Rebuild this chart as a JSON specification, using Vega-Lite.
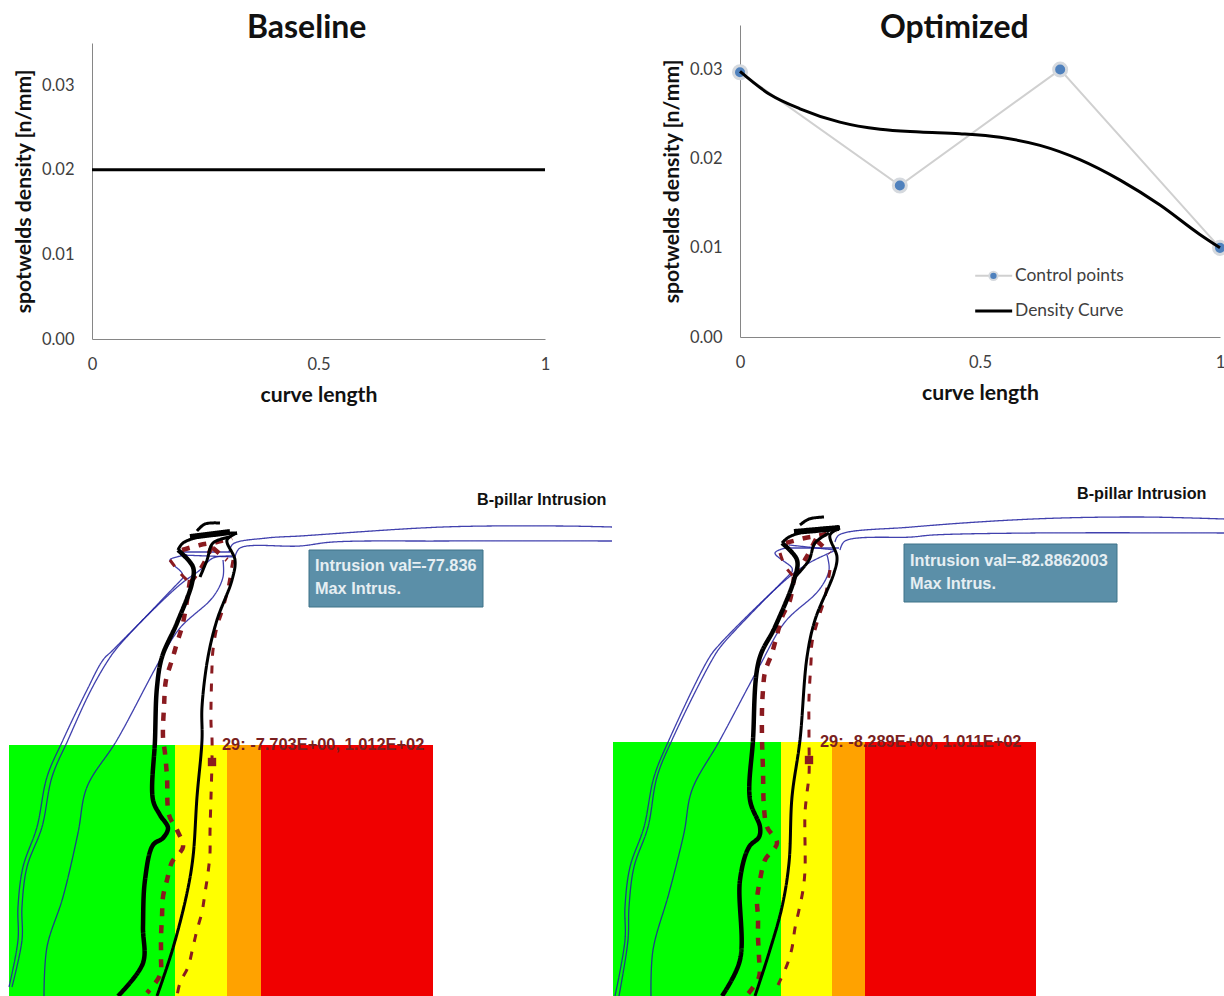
{
"$schema":"https://vega.github.io/schema/vega-lite/v6.json",
"padding":0,
"background":"white",
"config":{"view":{"stroke":null},"axis":{"grid":false,"ticks":false,"domainColor":"#868686","labelFont":"Lato","labelFontSize":16.5,"labelColor":"#404040","titleFont":"Lato","titleFontWeight":"bold","titleColor":"#111111","titleFontSize":21.2,"labelFlush":false},"title":{"font":"Lato","fontWeight":"bold","fontSize":32,"color":"#111111"}},
"datasets":{
"left":[
{"c":"u1","k":"blue","i":0,"x":612,"y":527},{"c":"u1","k":"blue","i":1,"x":560,"y":526},{"c":"u1","k":"blue","i":2,"x":443,"y":527},{"c":"u1","k":"blue","i":3,"x":300,"y":536},{"c":"u1","k":"blue","i":4,"x":267,"y":538},{"c":"u1","k":"blue","i":5,"x":233,"y":544},{"c":"u1","k":"blue","i":6,"x":229,"y":552},
{"c":"u2","k":"blue","i":0,"x":612,"y":541},{"c":"u2","k":"blue","i":1,"x":443,"y":541},{"c":"u2","k":"blue","i":2,"x":333,"y":542},{"c":"u2","k":"blue","i":3,"x":300,"y":546},{"c":"u2","k":"blue","i":4,"x":240,"y":548},{"c":"u2","k":"blue","i":5,"x":235,"y":557},
{"c":"u3","k":"blue","i":0,"x":183,"y":552},{"c":"u3","k":"blue","i":1,"x":230,"y":552},
{"c":"u4","k":"blue","i":0,"x":180,"y":555},{"c":"u4","k":"blue","i":1,"x":235,"y":557},
{"c":"o1","k":"blue","i":0,"x":232,"y":556},{"c":"o1","k":"blue","i":1,"x":213,"y":558},{"c":"o1","k":"blue","i":2,"x":200,"y":570},{"c":"o1","k":"blue","i":3,"x":182,"y":583},{"c":"o1","k":"blue","i":4,"x":160,"y":603},{"c":"o1","k":"blue","i":5,"x":113,"y":650},{"c":"o1","k":"blue","i":6,"x":103,"y":660},{"c":"o1","k":"blue","i":7,"x":87,"y":690},{"c":"o1","k":"blue","i":8,"x":63,"y":740},{"c":"o1","k":"blue","i":9,"x":47,"y":777},{"c":"o1","k":"blue","i":10,"x":37,"y":827},{"c":"o1","k":"blue","i":11,"x":23,"y":867},{"c":"o1","k":"blue","i":12,"x":18,"y":907},{"c":"o1","k":"blue","i":13,"x":18,"y":940},{"c":"o1","k":"blue","i":14,"x":9,"y":987},
{"c":"o2","k":"blue","i":0,"x":183,"y":578},{"c":"o2","k":"blue","i":1,"x":157,"y":605},{"c":"o2","k":"blue","i":2,"x":117,"y":648},{"c":"o2","k":"blue","i":3,"x":107,"y":662},{"c":"o2","k":"blue","i":4,"x":90,"y":692},{"c":"o2","k":"blue","i":5,"x":68,"y":740},{"c":"o2","k":"blue","i":6,"x":52,"y":777},{"c":"o2","k":"blue","i":7,"x":42,"y":827},{"c":"o2","k":"blue","i":8,"x":27,"y":867},{"c":"o2","k":"blue","i":9,"x":22,"y":907},{"c":"o2","k":"blue","i":10,"x":22,"y":940},{"c":"o2","k":"blue","i":11,"x":12,"y":987},
{"c":"in","k":"blue","i":0,"x":223,"y":560},{"c":"in","k":"blue","i":1,"x":223,"y":577},{"c":"in","k":"blue","i":2,"x":213,"y":597},{"c":"in","k":"blue","i":3,"x":180,"y":628},{"c":"in","k":"blue","i":4,"x":160,"y":660},{"c":"in","k":"blue","i":5,"x":117,"y":740},{"c":"in","k":"blue","i":6,"x":87,"y":787},{"c":"in","k":"blue","i":7,"x":78,"y":833},{"c":"in","k":"blue","i":8,"x":63,"y":897},{"c":"in","k":"blue","i":9,"x":47,"y":947},{"c":"in","k":"blue","i":10,"x":44,"y":996},
{"c":"lp","k":"blue","i":0,"x":187,"y":555},{"c":"lp","k":"blue","i":1,"x":170,"y":560},{"c":"lp","k":"blue","i":2,"x":182,"y":573},{"c":"lp","k":"blue","i":3,"x":183,"y":578},
{"c":"t1","k":"red thick","i":0,"x":182,"y":550},{"c":"t1","k":"red thick","i":1,"x":200,"y":545},{"c":"t1","k":"red thick","i":2,"x":217,"y":542},{"c":"t1","k":"red thick","i":3,"x":232,"y":538},
{"c":"t2","k":"red thick","i":0,"x":213,"y":548},{"c":"t2","k":"red thick","i":1,"x":227,"y":560},
{"c":"t3","k":"red thick","i":0,"x":212,"y":546},{"c":"t3","k":"red thick","i":1,"x":203,"y":565},{"c":"t3","k":"red thick","i":2,"x":190,"y":583},
{"c":"t4","k":"red thin","i":0,"x":170,"y":560},{"c":"t4","k":"red thin","i":1,"x":180,"y":573},{"c":"t4","k":"red thin","i":2,"x":190,"y":583},
{"c":"r1","k":"red thick","i":0,"x":190,"y":580},{"c":"r1","k":"red thick","i":1,"x":183,"y":623},{"c":"r1","k":"red thick","i":2,"x":177,"y":643},{"c":"r1","k":"red thick","i":3,"x":172,"y":660},{"c":"r1","k":"red thick","i":4,"x":166,"y":680},{"c":"r1","k":"red thick","i":5,"x":164,"y":707},{"c":"r1","k":"red thick","i":6,"x":163,"y":737},{"c":"r1","k":"red thick","i":7,"x":165,"y":753},{"c":"r1","k":"red thick","i":8,"x":167,"y":777},{"c":"r1","k":"red thick","i":9,"x":169,"y":815},{"c":"r1","k":"red thick","i":10,"x":177,"y":830},{"c":"r1","k":"red thick","i":11,"x":183,"y":847},{"c":"r1","k":"red thick","i":12,"x":172,"y":862},{"c":"r1","k":"red thick","i":13,"x":167,"y":880},{"c":"r1","k":"red thick","i":14,"x":163,"y":897},{"c":"r1","k":"red thick","i":15,"x":162,"y":917},{"c":"r1","k":"red thick","i":16,"x":161,"y":937},{"c":"r1","k":"red thick","i":17,"x":161,"y":957},{"c":"r1","k":"red thick","i":18,"x":160,"y":975},{"c":"r1","k":"red thick","i":19,"x":147,"y":993},
{"c":"r2","k":"red thin","i":0,"x":233,"y":560},{"c":"r2","k":"red thin","i":1,"x":230,"y":577},{"c":"r2","k":"red thin","i":2,"x":227,"y":593},{"c":"r2","k":"red thin","i":3,"x":222,"y":612},{"c":"r2","k":"red thin","i":4,"x":217,"y":627},{"c":"r2","k":"red thin","i":5,"x":213,"y":650},{"c":"r2","k":"red thin","i":6,"x":212,"y":667},{"c":"r2","k":"red thin","i":7,"x":211,"y":723},{"c":"r2","k":"red thin","i":8,"x":212,"y":738},{"c":"r2","k":"red thin","i":9,"x":212,"y":760},{"c":"r2","k":"red thin","i":10,"x":211,"y":797},{"c":"r2","k":"red thin","i":11,"x":210,"y":833},{"c":"r2","k":"red thin","i":12,"x":210,"y":853},{"c":"r2","k":"red thin","i":13,"x":208,"y":873},{"c":"r2","k":"red thin","i":14,"x":205,"y":893},{"c":"r2","k":"red thin","i":15,"x":202,"y":912},{"c":"r2","k":"red thin","i":16,"x":197,"y":930},{"c":"r2","k":"red thin","i":17,"x":193,"y":947},{"c":"r2","k":"red thin","i":18,"x":188,"y":967},{"c":"r2","k":"red thin","i":19,"x":180,"y":983},{"c":"r2","k":"red thin","i":20,"x":177,"y":996},
{"c":"b1","k":"black thick","i":0,"x":178,"y":550},{"c":"b1","k":"black thick","i":1,"x":193,"y":567},{"c":"b1","k":"black thick","i":2,"x":192,"y":583},{"c":"b1","k":"black thick","i":3,"x":177,"y":623},{"c":"b1","k":"black thick","i":4,"x":162,"y":657},{"c":"b1","k":"black thick","i":5,"x":157,"y":687},{"c":"b1","k":"black thick","i":6,"x":155,"y":740},{"c":"b1","k":"black thick","i":7,"x":153,"y":800},{"c":"b1","k":"black thick","i":8,"x":160,"y":815},{"c":"b1","k":"black thick","i":9,"x":168,"y":828},{"c":"b1","k":"black thick","i":10,"x":163,"y":838},{"c":"b1","k":"black thick","i":11,"x":153,"y":845},{"c":"b1","k":"black thick","i":12,"x":145,"y":880},{"c":"b1","k":"black thick","i":13,"x":143,"y":927},{"c":"b1","k":"black thick","i":14,"x":143,"y":963},{"c":"b1","k":"black thick","i":15,"x":118,"y":996},
{"c":"b2","k":"black medium","i":0,"x":178,"y":550},{"c":"b2","k":"black medium","i":1,"x":183,"y":543},{"c":"b2","k":"black medium","i":2,"x":207,"y":535},{"c":"b2","k":"black medium","i":3,"x":237,"y":533},
{"c":"b3","k":"black medium","i":0,"x":237,"y":533},{"c":"b3","k":"black medium","i":1,"x":227,"y":540},{"c":"b3","k":"black medium","i":2,"x":235,"y":560},{"c":"b3","k":"black medium","i":3,"x":232,"y":580},{"c":"b3","k":"black medium","i":4,"x":217,"y":620},{"c":"b3","k":"black medium","i":5,"x":208,"y":657},{"c":"b3","k":"black medium","i":6,"x":202,"y":707},{"c":"b3","k":"black medium","i":7,"x":202,"y":740},{"c":"b3","k":"black medium","i":8,"x":197,"y":797},{"c":"b3","k":"black medium","i":9,"x":193,"y":857},{"c":"b3","k":"black medium","i":10,"x":187,"y":893},{"c":"b3","k":"black medium","i":11,"x":173,"y":948},{"c":"b3","k":"black medium","i":12,"x":157,"y":996},
{"c":"b4","k":"black medium","i":0,"x":197,"y":531},{"c":"b4","k":"black medium","i":1,"x":205,"y":524},{"c":"b4","k":"black medium","i":2,"x":220,"y":523},
{"c":"b5","k":"black block","i":0,"x":190,"y":537},{"c":"b5","k":"black block","i":1,"x":230,"y":532},
{"c":"b6","k":"black medium","i":0,"x":230,"y":537},{"c":"b6","k":"black medium","i":1,"x":213,"y":543},{"c":"b6","k":"black medium","i":2,"x":207,"y":560},{"c":"b6","k":"black medium","i":3,"x":200,"y":577}
],
"right":[
{"c":"u1","k":"blue","i":0,"x":1224,"y":519},{"c":"u1","k":"blue","i":1,"x":1140,"y":517},{"c":"u1","k":"blue","i":2,"x":1033,"y":519},{"c":"u1","k":"blue","i":3,"x":912,"y":527},{"c":"u1","k":"blue","i":4,"x":839,"y":535},{"c":"u1","k":"blue","i":5,"x":835,"y":542},
{"c":"u2","k":"blue","i":0,"x":1224,"y":533},{"c":"u2","k":"blue","i":1,"x":1033,"y":533},{"c":"u2","k":"blue","i":2,"x":933,"y":535},{"c":"u2","k":"blue","i":3,"x":912,"y":537},{"c":"u2","k":"blue","i":4,"x":845,"y":541},{"c":"u2","k":"blue","i":5,"x":840,"y":550},
{"c":"u3","k":"blue","i":0,"x":785,"y":548},{"c":"u3","k":"blue","i":1,"x":839,"y":548},
{"c":"u4","k":"blue","i":0,"x":789,"y":545},{"c":"u4","k":"blue","i":1,"x":835,"y":550},
{"c":"o1","k":"blue","i":0,"x":836,"y":550},{"c":"o1","k":"blue","i":1,"x":825,"y":555},{"c":"o1","k":"blue","i":2,"x":809,"y":563},{"c":"o1","k":"blue","i":3,"x":789,"y":577},{"c":"o1","k":"blue","i":4,"x":719,"y":645},{"c":"o1","k":"blue","i":5,"x":709,"y":658},{"c":"o1","k":"blue","i":6,"x":669,"y":740},{"c":"o1","k":"blue","i":7,"x":654,"y":777},{"c":"o1","k":"blue","i":8,"x":644,"y":827},{"c":"o1","k":"blue","i":9,"x":630,"y":867},{"c":"o1","k":"blue","i":10,"x":625,"y":907},{"c":"o1","k":"blue","i":11,"x":625,"y":940},{"c":"o1","k":"blue","i":12,"x":615,"y":996},
{"c":"o2","k":"blue","i":0,"x":792,"y":572},{"c":"o2","k":"blue","i":1,"x":722,"y":645},{"c":"o2","k":"blue","i":2,"x":712,"y":660},{"c":"o2","k":"blue","i":3,"x":672,"y":740},{"c":"o2","k":"blue","i":4,"x":657,"y":777},{"c":"o2","k":"blue","i":5,"x":648,"y":827},{"c":"o2","k":"blue","i":6,"x":634,"y":867},{"c":"o2","k":"blue","i":7,"x":629,"y":907},{"c":"o2","k":"blue","i":8,"x":628,"y":940},{"c":"o2","k":"blue","i":9,"x":619,"y":996},
{"c":"in","k":"blue","i":0,"x":827,"y":555},{"c":"in","k":"blue","i":1,"x":829,"y":570},{"c":"in","k":"blue","i":2,"x":819,"y":590},{"c":"in","k":"blue","i":3,"x":785,"y":622},{"c":"in","k":"blue","i":4,"x":759,"y":667},{"c":"in","k":"blue","i":5,"x":720,"y":740},{"c":"in","k":"blue","i":6,"x":692,"y":790},{"c":"in","k":"blue","i":7,"x":684,"y":833},{"c":"in","k":"blue","i":8,"x":669,"y":893},{"c":"in","k":"blue","i":9,"x":653,"y":950},{"c":"in","k":"blue","i":10,"x":651,"y":996},
{"c":"lp","k":"blue","i":0,"x":785,"y":548},{"c":"lp","k":"blue","i":1,"x":775,"y":553},{"c":"lp","k":"blue","i":2,"x":792,"y":568},{"c":"lp","k":"blue","i":3,"x":792,"y":572},
{"c":"t1","k":"red thick","i":0,"x":786,"y":543},{"c":"t1","k":"red thick","i":1,"x":805,"y":538},{"c":"t1","k":"red thick","i":2,"x":822,"y":535},{"c":"t1","k":"red thick","i":3,"x":836,"y":531},
{"c":"t2","k":"red thick","i":0,"x":817,"y":541},{"c":"t2","k":"red thick","i":1,"x":830,"y":553},
{"c":"t3","k":"red thick","i":0,"x":816,"y":539},{"c":"t3","k":"red thick","i":1,"x":806,"y":558},{"c":"t3","k":"red thick","i":2,"x":794,"y":577},
{"c":"t4","k":"red thin","i":0,"x":780,"y":553},{"c":"t4","k":"red thin","i":1,"x":785,"y":566},{"c":"t4","k":"red thin","i":2,"x":794,"y":577},
{"c":"r1","k":"red thick","i":0,"x":794,"y":577},{"c":"r1","k":"red thick","i":1,"x":790,"y":600},{"c":"r1","k":"red thick","i":2,"x":782,"y":617},{"c":"r1","k":"red thick","i":3,"x":777,"y":635},{"c":"r1","k":"red thick","i":4,"x":772,"y":653},{"c":"r1","k":"red thick","i":5,"x":765,"y":672},{"c":"r1","k":"red thick","i":6,"x":763,"y":690},{"c":"r1","k":"red thick","i":7,"x":762,"y":710},{"c":"r1","k":"red thick","i":8,"x":762,"y":738},{"c":"r1","k":"red thick","i":9,"x":763,"y":770},{"c":"r1","k":"red thick","i":10,"x":764,"y":808},{"c":"r1","k":"red thick","i":11,"x":767,"y":827},{"c":"r1","k":"red thick","i":12,"x":777,"y":843},{"c":"r1","k":"red thick","i":13,"x":765,"y":860},{"c":"r1","k":"red thick","i":14,"x":760,"y":880},{"c":"r1","k":"red thick","i":15,"x":757,"y":900},{"c":"r1","k":"red thick","i":16,"x":758,"y":917},{"c":"r1","k":"red thick","i":17,"x":758,"y":937},{"c":"r1","k":"red thick","i":18,"x":759,"y":957},{"c":"r1","k":"red thick","i":19,"x":759,"y":977},{"c":"r1","k":"red thick","i":20,"x":747,"y":995},
{"c":"r2","k":"red thin","i":0,"x":830,"y":570},{"c":"r2","k":"red thin","i":1,"x":825,"y":597},{"c":"r2","k":"red thin","i":2,"x":817,"y":623},{"c":"r2","k":"red thin","i":3,"x":812,"y":643},{"c":"r2","k":"red thin","i":4,"x":811,"y":662},{"c":"r2","k":"red thin","i":5,"x":809,"y":698},{"c":"r2","k":"red thin","i":6,"x":809,"y":737},{"c":"r2","k":"red thin","i":7,"x":809,"y":775},{"c":"r2","k":"red thin","i":8,"x":807,"y":793},{"c":"r2","k":"red thin","i":9,"x":805,"y":813},{"c":"r2","k":"red thin","i":10,"x":805,"y":870},{"c":"r2","k":"red thin","i":11,"x":803,"y":890},{"c":"r2","k":"red thin","i":12,"x":799,"y":910},{"c":"r2","k":"red thin","i":13,"x":795,"y":928},{"c":"r2","k":"red thin","i":14,"x":792,"y":948},{"c":"r2","k":"red thin","i":15,"x":787,"y":965},{"c":"r2","k":"red thin","i":16,"x":778,"y":985},
{"c":"b1","k":"black thick","i":0,"x":782,"y":543},{"c":"b1","k":"black thick","i":1,"x":797,"y":560},{"c":"b1","k":"black thick","i":2,"x":794,"y":580},{"c":"b1","k":"black thick","i":3,"x":775,"y":627},{"c":"b1","k":"black thick","i":4,"x":759,"y":660},{"c":"b1","k":"black thick","i":5,"x":753,"y":740},{"c":"b1","k":"black thick","i":6,"x":750,"y":800},{"c":"b1","k":"black thick","i":7,"x":760,"y":827},{"c":"b1","k":"black thick","i":8,"x":759,"y":837},{"c":"b1","k":"black thick","i":9,"x":749,"y":847},{"c":"b1","k":"black thick","i":10,"x":740,"y":880},{"c":"b1","k":"black thick","i":11,"x":740,"y":960},{"c":"b1","k":"black thick","i":12,"x":722,"y":996},
{"c":"b2","k":"black medium","i":0,"x":782,"y":543},{"c":"b2","k":"black medium","i":1,"x":789,"y":537},{"c":"b2","k":"black medium","i":2,"x":812,"y":530},{"c":"b2","k":"black medium","i":3,"x":840,"y":527},
{"c":"b3","k":"black medium","i":0,"x":840,"y":528},{"c":"b3","k":"black medium","i":1,"x":830,"y":535},{"c":"b3","k":"black medium","i":2,"x":837,"y":557},{"c":"b3","k":"black medium","i":3,"x":834,"y":573},{"c":"b3","k":"black medium","i":4,"x":815,"y":620},{"c":"b3","k":"black medium","i":5,"x":807,"y":657},{"c":"b3","k":"black medium","i":6,"x":800,"y":740},{"c":"b3","k":"black medium","i":7,"x":792,"y":797},{"c":"b3","k":"black medium","i":8,"x":789,"y":863},{"c":"b3","k":"black medium","i":9,"x":782,"y":907},{"c":"b3","k":"black medium","i":10,"x":769,"y":953},{"c":"b3","k":"black medium","i":11,"x":755,"y":996},
{"c":"b4","k":"black medium","i":0,"x":800,"y":525},{"c":"b4","k":"black medium","i":1,"x":809,"y":519},{"c":"b4","k":"black medium","i":2,"x":824,"y":517},
{"c":"b5","k":"black block","i":0,"x":794,"y":532},{"c":"b5","k":"black block","i":1,"x":839,"y":528},
{"c":"b6","k":"black medium","i":0,"x":829,"y":533},{"c":"b6","k":"black medium","i":1,"x":815,"y":543},{"c":"b6","k":"black medium","i":2,"x":809,"y":560},{"c":"b6","k":"black medium","i":3,"x":795,"y":577}
]
},
"columns":2,
"spacing":0,
"bounds":"flush",
"concat":[
{"width":612,"height":339,
 "title":{"text":"Baseline","anchor":"start","frame":"group","dx":247,"offset":-45},
 "data":{"values":[{"length":0,"density":0.02},{"length":1,"density":0.02}]},
 "mark":{"type":"line","color":"#000000","strokeWidth":3},
 "encoding":{
  "x":{"field":"length","type":"quantitative","scale":{"domain":[0,1],"range":[92,545]},"axis":{"values":[0,0.5,1],"format":"~g","title":"curve length","offset":0,"labelPadding":17,"titlePadding":12}},
  "y":{"field":"density","type":"quantitative","scale":{"domain":[0,0.035],"range":[339,43]},"axis":{"values":[0,0.01,0.02,0.03],"format":".2f","title":"spotwelds density [n/mm]","offset":-92,"labelPadding":18,"titlePadding":7}}
 }},
{"width":612,"height":339,
 "title":{"text":"Optimized","anchor":"start","frame":"group","dx":268,"offset":-45},
 "encoding":{
  "x":{"field":"length","type":"quantitative","scale":{"domain":[0,1],"range":[128,608]},"axis":{"values":[0,0.5,1],"format":"~g","title":"curve length","offset":-2,"labelPadding":17,"titlePadding":12}},
  "y":{"field":"density","type":"quantitative","scale":{"domain":[0,0.035],"range":[337,25]},"axis":{"values":[0,0.01,0.02,0.03],"format":".2f","title":"spotwelds density [n/mm]","offset":-128,"labelPadding":18,"titlePadding":7}}
 },
 "layer":[
  {"data":{"values":[{"length":0,"density":0.0297},{"length":0.333,"density":0.017},{"length":0.667,"density":0.03},{"length":1,"density":0.01}]},
   "layer":[
    {"mark":{"type":"line","color":"#d0d0d0","strokeWidth":2}},
    {"mark":{"type":"point","filled":true,"fill":"#4f81bd","stroke":"#d5d9de","strokeWidth":3,"size":170,"opacity":1}}
   ]},
  {"data":{"values":[{"length":0,"density":0.0298},{"length":0.0625,"density":0.0272},{"length":0.125,"density":0.0256},{"length":0.208,"density":0.0241},{"length":0.292,"density":0.0233},{"length":0.375,"density":0.023},{"length":0.458,"density":0.0228},{"length":0.542,"density":0.0224},{"length":0.625,"density":0.0215},{"length":0.708,"density":0.0199},{"length":0.792,"density":0.0176},{"length":0.875,"density":0.0148},{"length":0.958,"density":0.0115},{"length":1,"density":0.01}]},
   "mark":{"type":"line","color":"#000000","strokeWidth":3,"interpolate":"monotone"}},
  {"data":{"values":[{"length":0.49,"density":0.00686},{"length":0.567,"density":0.00686}]},
   "mark":{"type":"line","color":"#d0d0d0","strokeWidth":2}},
  {"data":{"values":[{"length":0.528,"density":0.00686}]},
   "mark":{"type":"point","filled":true,"fill":"#4f81bd","stroke":"#d5d9de","strokeWidth":2,"size":70,"opacity":1}},
  {"data":{"values":[{"length":0.49,"density":0.00292},{"length":0.567,"density":0.00292}]},
   "mark":{"type":"line","color":"#000000","strokeWidth":3}},
  {"data":{"values":[{"length":0.573,"density":0.00686,"label":"Control points"},{"length":0.573,"density":0.00292,"label":"Density Curve"}]},
   "mark":{"type":"text","align":"left","baseline":"middle","font":"Lato","fontSize":17.4,"color":"#404040"},
   "encoding":{"text":{"field":"label"}}}
 ]},
{"width":612,"height":657,
 "encoding":{
  "x":{"field":"x","type":"quantitative","scale":{"domain":[0,612]},"axis":null},
  "y":{"field":"y","type":"quantitative","scale":{"domain":[996,339]},"axis":null}
 },
 "layer":[
  {"data":{"values":[{"zone":"safe","x":9,"x2":175,"y":745,"y2":996},{"zone":"acceptable","x":175,"x2":227,"y":745,"y2":996},{"zone":"marginal","x":227,"x2":261,"y":745,"y2":996},{"zone":"poor","x":261,"x2":433,"y":745,"y2":996}]},
   "mark":{"type":"rect"},
   "encoding":{"x2":{"field":"x2"},"y2":{"field":"y2"},"color":{"field":"zone","type":"nominal","legend":null,"scale":{"domain":["safe","acceptable","marginal","poor"],"range":["#00ff00","#ffff00","#ffa200","#f00000"]}}}},
  {"data":{"name":"left"},
   "mark":{"type":"line","interpolate":"catmull-rom"},
   "encoding":{
    "detail":{"field":"c"},"order":{"field":"i","type":"quantitative"},
    "stroke":{"field":"k","type":"nominal","legend":null,"scale":{"domain":["blue","red thick","red thin","black thick","black medium","black block"],"range":["#2020a0","#8a1a1f","#8a1a1f","#000000","#000000","#000000"]}},
    "strokeWidth":{"field":"k","type":"nominal","legend":null,"scale":{"type":"ordinal","domain":["blue","red thick","red thin","black thick","black medium","black block"],"range":[1.3,4.5,3,4.5,3,6]}},
    "strokeDash":{"field":"k","type":"nominal","legend":null,"scale":{"domain":["blue","red thick","red thin","black thick","black medium","black block"],"range":[[1,0],[8,9],[8,10],[1,0],[1,0],[1,0]]}},
    "opacity":{"field":"k","type":"nominal","legend":null,"scale":{"type":"ordinal","domain":["blue","red thick","red thin","black thick","black medium","black block"],"range":[0.85,1,1,1,1,1]}}
   }},
  {"data":{"values":[{"x":212,"y":762}]},"mark":{"type":"point","shape":"square","filled":true,"color":"#8a1a1f","size":70,"opacity":1}},
  {"data":{"values":[{"x":309,"x2":483,"y":550,"y2":607}]},"mark":{"type":"rect","fill":"#5b8fa8","stroke":"#3f7388","strokeWidth":1},"encoding":{"x2":{"field":"x2"},"y2":{"field":"y2"}}},
  {"data":{"values":[{"x":315,"y":566,"label":"Intrusion val=-77.836"},{"x":315,"y":589,"label":"Max Intrus."}]},"mark":{"type":"text","align":"left","baseline":"middle","font":"Liberation Sans","fontWeight":"bold","fontSize":16.3,"color":"#e6eef2"},"encoding":{"text":{"field":"label"}}},
  {"data":{"values":[{"x":477,"y":500,"label":"B-pillar Intrusion"}]},"mark":{"type":"text","align":"left","baseline":"middle","font":"Liberation Sans","fontWeight":"bold","fontSize":16.2,"color":"#111111"},"encoding":{"text":{"field":"label"}}},
  {"data":{"values":[{"x":222,"y":745,"label":"29: -7.703E+00, 1.012E+02"}]},"mark":{"type":"text","align":"left","baseline":"middle","font":"Liberation Sans","fontWeight":"bold","fontSize":16.4,"color":"#7a1f1f"},"encoding":{"text":{"field":"label"}}}
 ]},
{"width":612,"height":657,
 "encoding":{
  "x":{"field":"x","type":"quantitative","scale":{"domain":[612,1224]},"axis":null},
  "y":{"field":"y","type":"quantitative","scale":{"domain":[996,339]},"axis":null}
 },
 "layer":[
  {"data":{"values":[{"zone":"safe","x":613,"x2":781,"y":742,"y2":996},{"zone":"acceptable","x":781,"x2":832,"y":742,"y2":996},{"zone":"marginal","x":832,"x2":865,"y":742,"y2":996},{"zone":"poor","x":865,"x2":1036,"y":742,"y2":996}]},
   "mark":{"type":"rect"},
   "encoding":{"x2":{"field":"x2"},"y2":{"field":"y2"},"color":{"field":"zone","type":"nominal","legend":null,"scale":{"domain":["safe","acceptable","marginal","poor"],"range":["#00ff00","#ffff00","#ffa200","#f00000"]}}}},
  {"data":{"name":"right"},
   "mark":{"type":"line","interpolate":"catmull-rom"},
   "encoding":{
    "detail":{"field":"c"},"order":{"field":"i","type":"quantitative"},
    "stroke":{"field":"k","type":"nominal","legend":null,"scale":{"domain":["blue","red thick","red thin","black thick","black medium","black block"],"range":["#2020a0","#8a1a1f","#8a1a1f","#000000","#000000","#000000"]}},
    "strokeWidth":{"field":"k","type":"nominal","legend":null,"scale":{"type":"ordinal","domain":["blue","red thick","red thin","black thick","black medium","black block"],"range":[1.3,4.5,3,4.5,3,6]}},
    "strokeDash":{"field":"k","type":"nominal","legend":null,"scale":{"domain":["blue","red thick","red thin","black thick","black medium","black block"],"range":[[1,0],[8,9],[8,10],[1,0],[1,0],[1,0]]}},
    "opacity":{"field":"k","type":"nominal","legend":null,"scale":{"type":"ordinal","domain":["blue","red thick","red thin","black thick","black medium","black block"],"range":[0.85,1,1,1,1,1]}}
   }},
  {"data":{"values":[{"x":809,"y":760}]},"mark":{"type":"point","shape":"square","filled":true,"color":"#8a1a1f","size":70,"opacity":1}},
  {"data":{"values":[{"x":904,"x2":1117,"y":544,"y2":602}]},"mark":{"type":"rect","fill":"#5b8fa8","stroke":"#3f7388","strokeWidth":1},"encoding":{"x2":{"field":"x2"},"y2":{"field":"y2"}}},
  {"data":{"values":[{"x":910,"y":561,"label":"Intrusion val=-82.8862003"},{"x":910,"y":584,"label":"Max Intrus."}]},"mark":{"type":"text","align":"left","baseline":"middle","font":"Liberation Sans","fontWeight":"bold","fontSize":16.3,"color":"#e6eef2"},"encoding":{"text":{"field":"label"}}},
  {"data":{"values":[{"x":1077,"y":494,"label":"B-pillar Intrusion"}]},"mark":{"type":"text","align":"left","baseline":"middle","font":"Liberation Sans","fontWeight":"bold","fontSize":16.2,"color":"#111111"},"encoding":{"text":{"field":"label"}}},
  {"data":{"values":[{"x":820,"y":742,"label":"29: -8.289E+00, 1.011E+02"}]},"mark":{"type":"text","align":"left","baseline":"middle","font":"Liberation Sans","fontWeight":"bold","fontSize":16.4,"color":"#7a1f1f"},"encoding":{"text":{"field":"label"}}}
 ]}
]
}
